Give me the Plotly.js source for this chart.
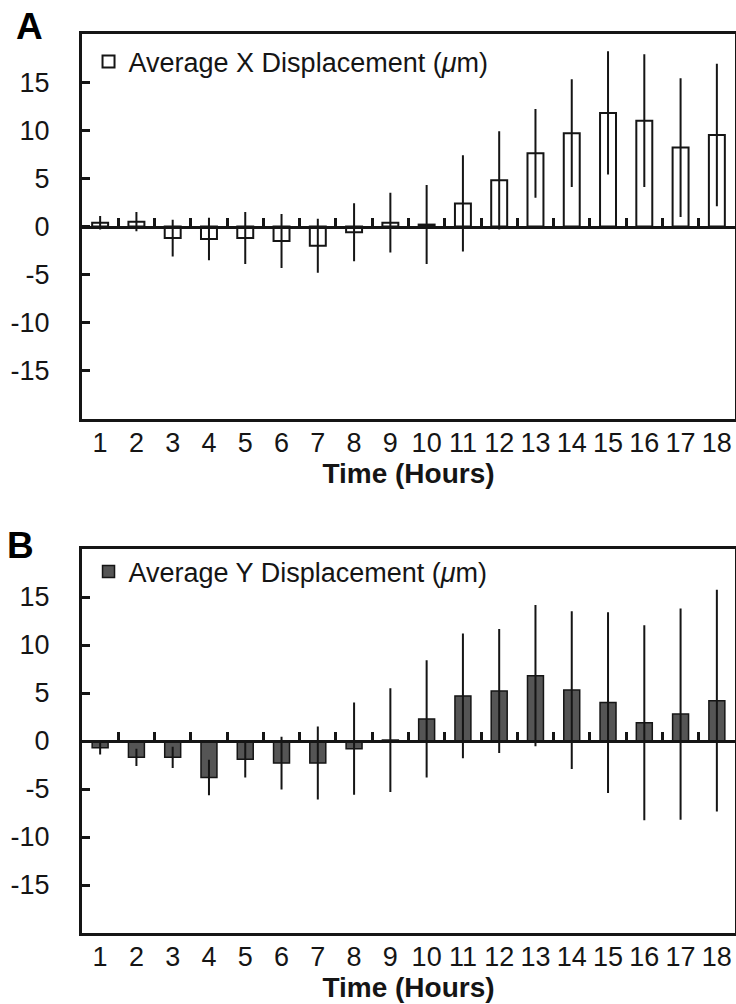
<!DOCTYPE html>
<html>
<head>
<meta charset="utf-8">
<script src="https://cdn.plot.ly/plotly-3.0.1.min.js"></script>
<style>html,body{margin:0;padding:0;background:#fff;}#chart{width:736px;height:1004px;}</style>
</head>
<body>
<div id="chart"></div>
<script>
// ---- data ----
const hours = [1,2,3,4,5,6,7,8,9,10,11,12,13,14,15,16,17,18];
const hourLabels = ["1","2","3","4","5","6","7","8","9","10","11","12","13","14","15","16","17","18"];
const xDisp = [0.4,0.5,-1.2,-1.3,-1.2,-1.5,-2.0,-0.6,0.4,0.2,2.4,4.8,7.6,9.7,11.8,11.0,8.2,9.5];
const xErr  = [0.6,0.9,1.8,2.1,2.6,2.7,2.7,2.9,3.0,4.0,4.9,5.0,4.5,5.5,6.3,6.8,7.1,7.3];
const yDisp = [-0.7,-1.7,-1.7,-3.8,-1.9,-2.3,-2.3,-0.8,0.1,2.3,4.7,5.2,6.8,5.3,4.0,1.9,2.8,4.2];
const yErr  = [0.6,0.8,1.0,1.75,1.8,2.65,3.7,4.7,5.3,6.0,6.4,6.35,7.25,8.1,9.3,10.05,10.9,11.45];
const yTicks = [-15,-10,-5,0,5,10,15];
const yTickLabels = ["-15","-10","-5","0","5","10","15"];
const seriesNames = ["Average X Displacement (<i>μ</i>m)", "Average Y Displacement (<i>μ</i>m)"];
const xTitle = "Time (Hours)";
const panelLabels = ["A","B"];

// ---- layout geometry ----
const W = 736, H = 1004;
const FONT = "Liberation Sans, Arial, Helvetica, sans-serif";
const INK = "#151515";
const domA = [1 - 419/H, 1 - 34/H];
const domB = [1 - 933/H, 1 - 549/H];
const midA = (domA[0] + domA[1]) / 2;
const midB = (domB[0] + domB[1]) / 2;
const boundaries = hours.slice(1).map(h => h - 0.5);
const xr = [0.5, hours.length + 0.5];

function errBar(arr){
  return {type:'data', array:arr, visible:true, color:INK, thickness:2, width:1};
}

const traces = [
  {type:'bar', x:hours, y:xDisp, name:seriesNames[0], width:0.44,
   marker:{color:'#ffffff', line:{color:INK, width:2}},
   error_y:errBar(xErr), xaxis:'x', yaxis:'y', legend:'legend', showlegend:true},
  {type:'bar', x:hours, y:yDisp, name:seriesNames[1], width:0.44,
   marker:{color:'#555555', line:{color:INK, width:1.5}},
   error_y:errBar(yErr), xaxis:'x3', yaxis:'y2', legend:'legend2', showlegend:true},
  // empty carriers so the zero-line axes (with category-boundary ticks) are drawn
  {type:'scatter', x:[], y:[], xaxis:'x2', yaxis:'y', showlegend:false, hoverinfo:'skip'},
  {type:'scatter', x:[], y:[], xaxis:'x4', yaxis:'y2', showlegend:false, hoverinfo:'skip'}
];

function mainX(anchor){
  return {domain:[0,1], range:xr, anchor:anchor, tickmode:'array', tickvals:hours, ticktext:hourLabels,
    ticks:'', showline:true, mirror:true, linewidth:3, linecolor:INK, showgrid:false, zeroline:false,
    tickfont:{size:27, color:INK, family:FONT}, ticklabelstandoff:-2,
    title:{text:xTitle, font:{size:28, color:INK, family:FONT, weight:'bold'}, standoff:0}};
}
function zeroX(over, pos){
  return {overlaying:over, anchor:'free', position:pos, side:'top', range:xr, tickmode:'array',
    tickvals:boundaries, ticks:'outside', ticklen:8, tickwidth:3, tickcolor:INK,
    showticklabels:false, showline:true, linewidth:3, linecolor:INK, showgrid:false, zeroline:false};
}
function mainY(anchor, dom){
  return {domain:dom, range:[-20,20], anchor:anchor, tickmode:'array', tickvals:yTicks, ticktext:yTickLabels,
    ticks:'inside', ticklen:8, tickwidth:3, tickcolor:INK, showline:true, mirror:true,
    linewidth:3, linecolor:INK, showgrid:false, zeroline:false,
    tickfont:{size:27, color:INK, family:FONT}, ticklabelstandoff:24};
}

const layout = {
  width:W, height:H, margin:{l:82, r:1, t:0, b:0},
  paper_bgcolor:'#ffffff', plot_bgcolor:'#ffffff',
  font:{family:FONT, color:INK},
  barmode:'group',
  xaxis:mainX('y'), yaxis:mainY('x', domA), xaxis2:zeroX('x', midA),
  xaxis3:mainX('y2'), yaxis2:mainY('x3', domB), xaxis4:zeroX('x3', midB),
  legend:{x:0.01, xanchor:'left', y:1 - 62/H, yanchor:'middle', bgcolor:'rgba(0,0,0,0)',
    font:{size:27, color:INK, family:FONT}},
  legend2:{x:0.01, xanchor:'left', y:1 - 572/H, yanchor:'middle', bgcolor:'rgba(0,0,0,0)',
    font:{size:27, color:INK, family:FONT}},
  annotations:[
    {text:'<b>'+panelLabels[0]+'</b>', xref:'paper', yref:'paper', x:(29-82)/653, y:1-27/H,
     xanchor:'center', yanchor:'middle', showarrow:false, font:{size:37, color:'#000', family:FONT}},
    {text:'<b>'+panelLabels[1]+'</b>', xref:'paper', yref:'paper', x:(20-82)/653, y:1-545/H,
     xanchor:'center', yanchor:'middle', showarrow:false, font:{size:37, color:'#000', family:FONT}}
  ]
};

Plotly.newPlot('chart', traces, layout, {staticPlot:true, displayModeBar:false});
</script>
</body>
</html>
